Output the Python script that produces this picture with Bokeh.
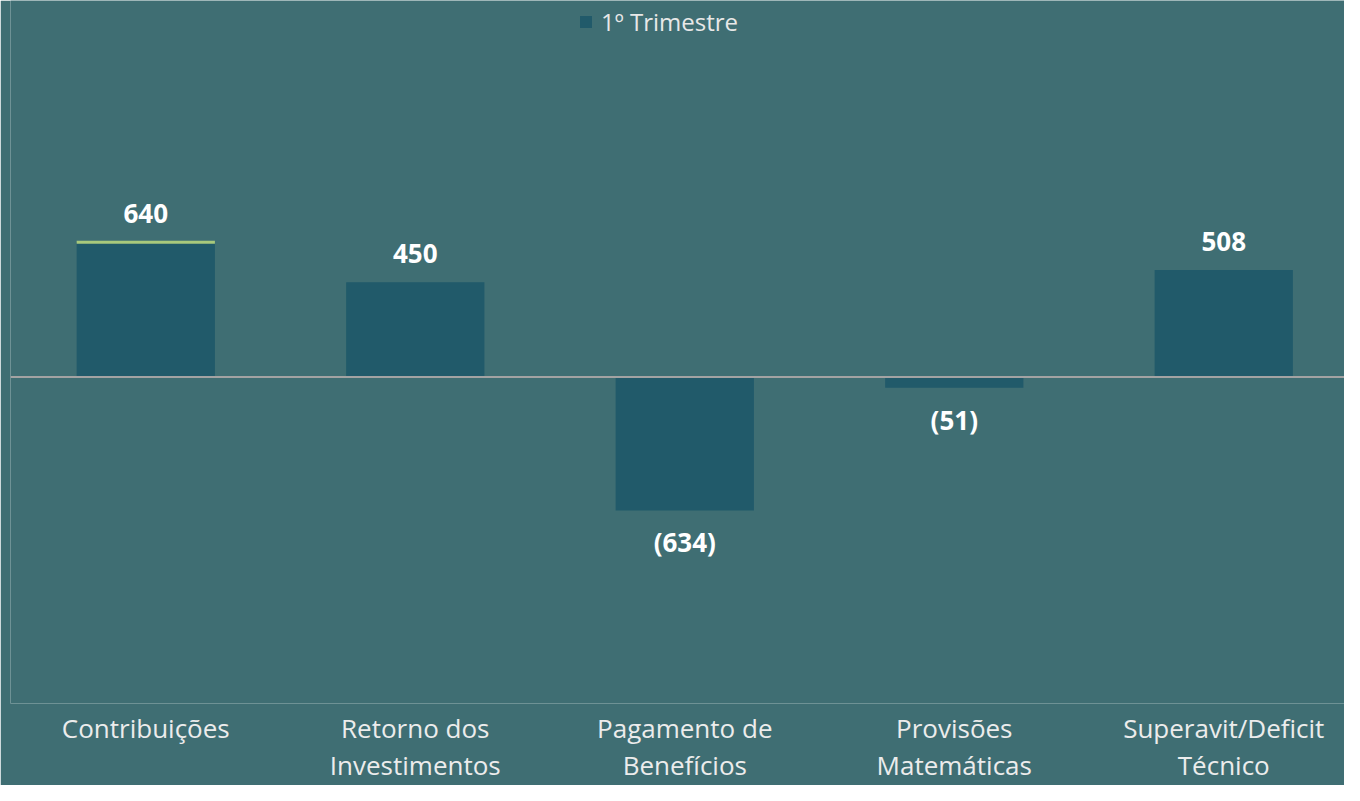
from bokeh.plotting import figure
from bokeh.models import Range1d, FixedTicker, Span, ColumnDataSource
from bokeh.core.properties import value
from bokeh.embed import file_html
from bokeh.resources import INLINE

# ---- data ----
categories = ["Contribuições", "Retorno dos\nInvestimentos", "Pagamento de\nBenefícios",
              "Provisões\nMatemáticas", "Superavit/Deficit\nTécnico"]
values_q1 = [640, 450, -634, -51, 508]
series_name = "1º Trimestre"

BG = "#3f6e73"
BAR = "#215a6a"
FONT = "Open Sans"

xs = list(range(len(categories)))
labels = [f"{v:d}" if v >= 0 else f"({-v:d})" for v in values_q1]
offsets = [-29 if v >= 0 else 32 for v in values_q1]

W, H = 1344, 785
px_per_unit = 0.2102
frame_h = 702
zero_from_top = 376
y_end = zero_from_top / px_per_unit
y_start = y_end - frame_h / px_per_unit

p = figure(width=W, height=H, output_backend="svg", toolbar_location=None,
           x_range=Range1d(-0.502, 4.448), y_range=Range1d(y_start, y_end),
           y_axis_location=None, min_border_left=10, min_border_right=0,
           min_border_top=0, min_border_bottom=0)
p.background_fill_color = BG
p.border_fill_color = BG
p.outline_line_color = None
p.grid.visible = False

src = ColumnDataSource(dict(x=xs, top=values_q1, label=labels, off=offsets))
p.vbar(x="x", top="top", bottom=0, width=0.513, source=src,
       fill_color=BAR, line_color=None, legend_label=series_name)

# light-green top edge on first bar
p.segment(x0=[xs[0] - 0.2565], x1=[xs[0] + 0.2565], y0=[values_q1[0]], y1=[values_q1[0]],
          line_color="#a8c97c", line_width=3)

p.add_layout(Span(location=0, dimension="width", line_color="#a3a3a3", line_width=2))

p.text(x="x", y="top", text="label", y_offset="off", source=src,
       text_align="center", text_baseline="middle", text_color="#ffffff",
       text_font=value(FONT), text_font_style="bold", text_font_size="26px")

ax = p.xaxis[0]
ax.ticker = FixedTicker(ticks=xs)
ax.major_label_overrides = {i: c for i, c in enumerate(categories)}
ax.axis_line_color = None
ax.major_tick_line_color = None
ax.minor_tick_line_color = None
ax.major_tick_out = 0
ax.major_tick_in = 0
ax.major_label_standoff = 6
ax.major_label_text_font = FONT
ax.major_label_text_font_size = "26px"
ax.major_label_text_color = "#ececec"
ax.major_label_text_line_height = 1.03

lg = p.legend[0]
lg.location = (564, 661)
lg.orientation = "horizontal"
lg.background_fill_alpha = 0
lg.border_line_alpha = 0
lg.label_text_color = "#e8e8e8"
lg.label_text_font = FONT
lg.label_text_font_size = "24px"
lg.glyph_width = 15
lg.glyph_height = 15
lg.label_standoff = 8
lg.margin = 0
lg.padding = 4

open("out.html", "w").write(file_html(p, INLINE))
